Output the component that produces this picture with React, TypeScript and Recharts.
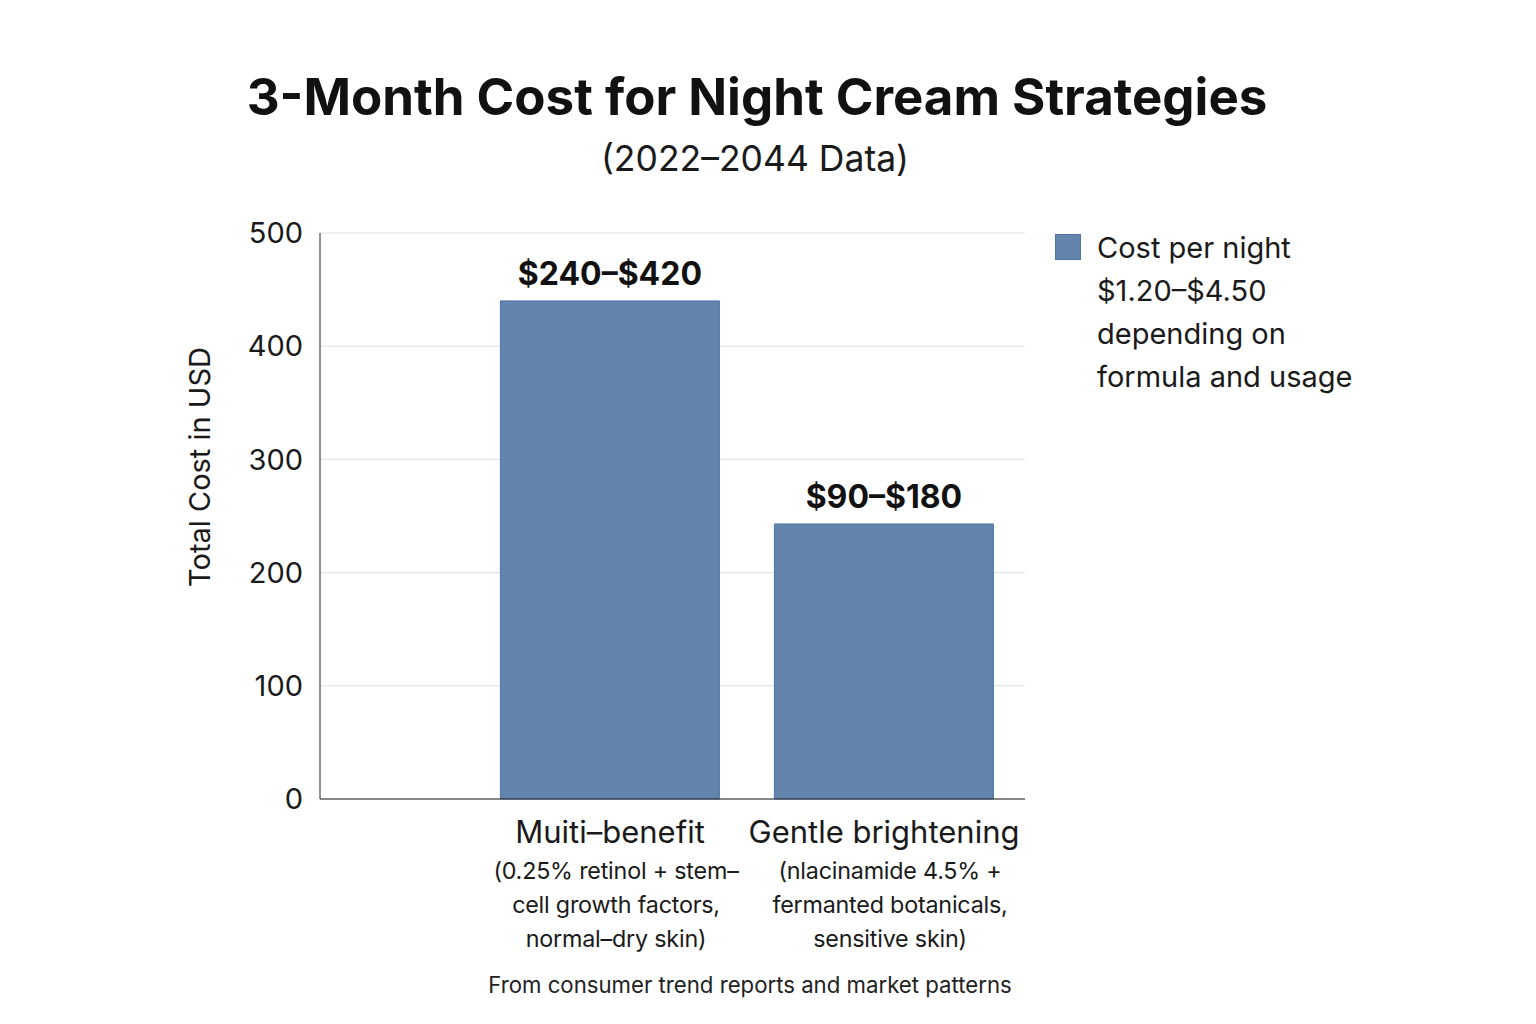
import React from 'react'
import {
  BarChart,
  Bar,
  XAxis,
  YAxis,
  CartesianGrid,
  Legend,
  LabelList,
} from 'recharts'

const categories = ['Muiti–benefit', 'Gentle brightening']
const categoryDetails = [
  ['(0.25% retinol + stem–', 'cell growth factors,', 'normal–dry skin)'],
  ['(nlacinamide 4.5% +', 'fermanted botanicals,', 'sensitive skin)'],
]
const totalCost = [440, 243]
const rangeLabels = ['$240–$420', '$90–$180']
const yTicks = [0, 100, 200, 300, 400, 500]
const legendLines = ['Cost per night', '$1.20–$4.50', 'depending on', 'formula and usage']

const data = categories.map((name, i) => ({
  name,
  cost: totalCost[i],
  range: rangeLabels[i],
}))

const FONT = 'Inter, "Noto Sans", sans-serif'
const BAR_FILL = '#6284ad'
const BAR_STROKE = '#4f74a6'

function CategoryTick({ x, y, payload, index }: any) {
  const lines = categoryDetails[payload?.index ?? index] ?? []
  return (
    <g transform={`translate(${x},${y})`}>
      <text x={0} y={36} textAnchor="middle" fontSize={31} fill="#1a1a1a" fontFamily={FONT}>
        {payload.value}
      </text>
      {lines.map((line, i) => (
        <text
          key={line}
          x={6}
          y={72 + i * 34}
          textAnchor="middle"
          fontSize={23.3}
          fill="#1a1a1a"
          fontFamily={FONT}
          letterSpacing={-0.2}
        >
          {line}
        </text>
      ))}
    </g>
  )
}

function CostLegend() {
  return (
    <div style={{ display: 'flex', alignItems: 'flex-start', fontFamily: FONT }}>
      <div
        style={{
          width: 26,
          height: 26,
          background: BAR_FILL,
          border: `1px solid ${BAR_STROKE}`,
          boxSizing: 'border-box',
          marginTop: 8,
          marginRight: 16,
        }}
      />
      <div style={{ fontSize: 29, lineHeight: '43px', color: '#1a1a1a' }}>
        {legendLines.map((l) => (
          <div key={l}>{l}</div>
        ))}
      </div>
    </div>
  )
}

function AxisTitle({ viewBox }: any) {
  const cx = viewBox.x + 19
  const cy = viewBox.y + viewBox.height / 2 - 49
  return (
    <text
      x={cx}
      y={cy}
      transform={`rotate(-90, ${cx}, ${cy})`}
      textAnchor="middle"
      dominantBaseline="central"
      fontSize={29}
      fill="#1a1a1a"
      fontFamily={FONT}
    >
      Total Cost in USD
    </text>
  )
}

export default function App() {
  return (
    <div
      style={{
        position: 'absolute',
        left: 0,
        top: 0,
        width: 1536,
        height: 1024,
        background: '#fff',
        fontFamily: FONT,
      }}
    >
      <div
        style={{
          position: 'absolute',
          left: 0,
          width: 1514,
          top: 66,
          textAlign: 'center',
          fontSize: 51,
          fontWeight: 700,
          color: '#111',
        }}
      >
        3-Month Cost for Night Cream Strategies
      </div>
      <div
        style={{
          position: 'absolute',
          left: 0,
          width: 1510,
          top: 137,
          textAlign: 'center',
          fontSize: 35.5,
          color: '#1a1a1a',
        }}
      >
        (2022–2044 Data)
      </div>

      <BarChart
        width={1536}
        height={1024}
        data={data}
        margin={{ top: 233, right: 511, bottom: 55, left: 180 }}
        barCategoryGap="10%"
      >
        <CartesianGrid vertical={false} stroke="#dde0e4" />
        <XAxis
          dataKey="name"
          height={170}
          padding={{ left: 153, right: 4 }}
          axisLine={{ stroke: '#222' }}
          tickLine={false}
          interval={0}
          tick={<CategoryTick />}
        />
        <YAxis
          width={140}
          domain={[0, 500]}
          ticks={yTicks}
          axisLine={{ stroke: '#222' }}
          tickLine={false}
          tickMargin={11}
          tick={{ fontSize: 29, fill: '#1a1a1a', fontFamily: FONT }}
          label={<AxisTitle />}
        />
        <Legend
          layout="vertical"
          align="center"
          verticalAlign="middle"
          content={<CostLegend />}
          wrapperStyle={{ left: 1055, top: 226, width: 340 }}
        />
        <Bar
          dataKey="cost"
          name="Cost per night"
          fill={BAR_FILL}
          stroke={BAR_STROKE}
          strokeWidth={1}
          isAnimationActive={false}
        >
          <LabelList
            dataKey="range"
            position="top"
            offset={16}
            fontSize={32}
            fontWeight={700}
            fill="#111"
            fontFamily={FONT}
          />
        </Bar>
      </BarChart>

      <div
        style={{
          position: 'absolute',
          left: 0,
          width: 1500,
          top: 971,
          textAlign: 'center',
          fontSize: 22.2,
          color: '#222',
        }}
      >
        From consumer trend reports and market patterns
      </div>
    </div>
  )
}
